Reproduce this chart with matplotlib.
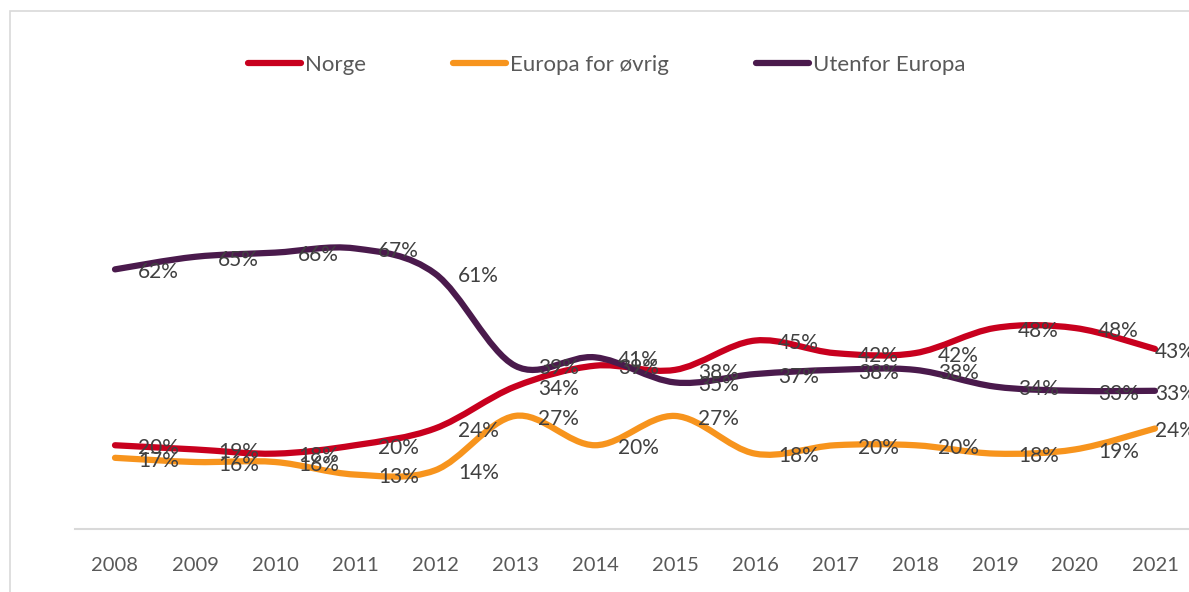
"""Share of students by origin, 2008-2021, drawn as Excel-style smoothed lines."""

import matplotlib

matplotlib.use("Agg")

import matplotlib.pyplot as plt
import numpy as np
from matplotlib.lines import Line2D
from matplotlib.patches import PathPatch, Rectangle
from matplotlib.path import Path

YEARS = [str(y) for y in range(2008, 2022)]
NORGE = [20, 19, 18, 20, 24, 34, 39, 38, 45, 42, 42, 48, 48, 43]
EUROPA = [17, 16, 16, 13, 14, 27, 20, 27, 18, 20, 20, 18, 19, 24]
UTENFOR = [62, 65, 66, 67, 61, 39, 41, 35, 37, 38, 38, 34, 33, 33]

SERIES = [
    ("Norge", NORGE, "#c8001e"),
    ("Europa for øvrig", EUROPA, "#f7941d"),
    ("Utenfor Europa", UTENFOR, "#4a1a4c"),
]

AXIS_GREY, TICK_INK, LABEL_INK = "#d9d9d9", "#595959", "#404040"
plt.rcParams["font.family"] = ["Lato", "DejaVu Sans"]

W, H = 1189, 592


def smooth_path(xs, ys):
    """Bezier path through the points, control points like Excel's smoothed line."""
    pts = np.column_stack([xs, ys]).astype(float)
    padded = np.vstack([pts[:1], pts, pts[-1:]])
    verts, codes = [pts[0]], [Path.MOVETO]
    for i in range(len(pts) - 1):
        p0, p1, p2, p3 = padded[i], padded[i + 1], padded[i + 2], padded[i + 3]
        verts += [p1 + (p2 - p0) / 6, p2 - (p3 - p1) / 6, p2]
        codes += [Path.CURVE4] * 3
    return Path(verts, codes)


fig = plt.figure(figsize=(W / 100, H / 100), dpi=100, facecolor="white")
# chart area border, runs off the right and bottom edges like the source
fig.patches.append(
    Rectangle((10 / W, -0.05), 1.1, 1 - 11 / H + 0.05, transform=fig.transFigure,
              fill=False, edgecolor=AXIS_GREY, linewidth=1.2)
)

y_top = 0.80
ax = fig.add_axes([75 / W, 63 / H, 1120 / W, (529 - 194) / H])
ax.set_xlim(-0.5, len(YEARS) - 0.5)
ax.set_ylim(0, y_top)
ax.patch.set_visible(False)

x = np.arange(len(YEARS))
for name, values, color in SERIES:
    vals = np.array(values) / 100
    ax.add_patch(PathPatch(smooth_path(x, vals), fill=False, edgecolor=color,
                           linewidth=4.5, capstyle="round", joinstyle="round"))

for name, values, color in SERIES:
    for i, v in enumerate(values):
        dx = 16.5 if i < len(values) - 1 else 0  # last label is pushed inside
        ax.annotate(f"{v}%", (i, v / 100), xytext=(dx, -2), textcoords="offset points",
                    ha="left", va="center", fontsize=15, color=LABEL_INK,
                    annotation_clip=False)

ax.set_xticks(x, YEARS)
ax.set_yticks([])
ax.tick_params(axis="x", length=0, pad=20, labelsize=14.5, labelcolor=TICK_INK)
for side in ("top", "right", "left"):
    ax.spines[side].set_visible(False)
ax.spines["bottom"].set_color(AXIS_GREY)
ax.spines["bottom"].set_linewidth(1.5)

handles = [Line2D([], [], color=c, linewidth=4.5, solid_capstyle="round") for _, _, c in SERIES]
fig.legend(handles, [n for n, _, _ in SERIES], loc="center", ncol=3,
           bbox_to_anchor=(607 / W, 1 - 65 / H), frameon=False, fontsize=16,
           labelcolor=TICK_INK, handlelength=2.4, handletextpad=0.18, columnspacing=3.9)

fig.savefig("out.png", dpi=100, facecolor="white")
